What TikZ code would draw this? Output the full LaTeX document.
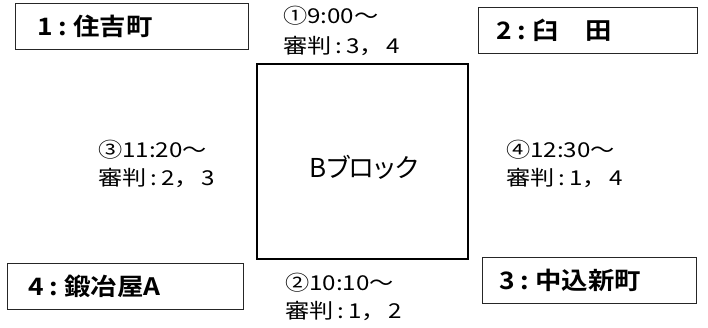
\documentclass[tikz,border=0pt]{standalone}
\usepackage{fontspec}
\newfontfamily\jp[FakeStretch=1.18]{Noto Sans CJK JP}
\newfontfamily\jpk[RawFeature=+palt]{Noto Sans CJK JP}
\newfontfamily\jpb[FakeStretch=1.1]{Noto Sans CJK JP Bold}
\begin{document}
\begin{tikzpicture}[x=1pt,y=-1pt,
  tbox/.style={draw=black!85, line width=0.9pt, inner sep=0, rectangle},
  lbl/.style={font=\jpb\fontsize{24}{24}\selectfont, anchor=west, inner sep=0},
  sched/.style={font=\jp\fontsize{20.5}{20.5}\selectfont, anchor=west, inner sep=0},
  blk/.style={draw=black, line width=2pt, inner sep=0, rectangle}]
\useasboundingbox (0,0) rectangle (708,327);
% team boxes
\node[tbox, minimum width=233pt, minimum height=46pt] (b1) at (131.5,26) {};
\node[tbox, minimum width=219pt, minimum height=46pt] (b2) at (587.5,30) {};
\node[tbox, minimum width=236pt, minimum height=46pt] (b4) at (125,286) {};
\node[tbox, minimum width=214pt, minimum height=46pt] (b3) at (589,280) {};
\node[lbl] (t1) at (37,26) {1\hspace{6pt}:\hspace{6pt}住吉町};
\node[lbl] (t2) at (496,30) {2\hspace{6pt}:\hspace{6pt}臼　田};
\node[lbl] (t4) at (28,286) {4\hspace{6pt}:\hspace{6pt}鍛冶屋A};
\node[lbl] (t3) at (499,280) {3\hspace{6pt}:\hspace{6pt}中込新町};
% center block
\node[blk, minimum width=211pt, minimum height=195pt] (blk) at (362.5,161.5) {};
\node[font=\jpk\fontsize{26}{26}\selectfont, inner sep=0] (bl) at (364,167) {Bブロック};
% schedules
\node[sched] (s1a) at (283,16) {①9:00～};
\node[sched] (s1b) at (283,46) {審判\hspace{4pt}:\hspace{4pt}3，\hspace{3pt}4};
\node[sched] (s3a) at (98,150) {③11:20～};
\node[sched] (s3b) at (98,178) {審判\hspace{4pt}:\hspace{4pt}2，\hspace{3pt}3};
\node[sched] (s4a) at (506,150) {④12:30～};
\node[sched] (s4b) at (506,178) {審判\hspace{4pt}:\hspace{4pt}1，\hspace{3pt}4};
\node[sched] (s2a) at (285,283) {②10:10～};
\node[sched] (s2b) at (285,311) {審判\hspace{4pt}:\hspace{4pt}1，\hspace{3pt}2};
\end{tikzpicture}
\end{document}
